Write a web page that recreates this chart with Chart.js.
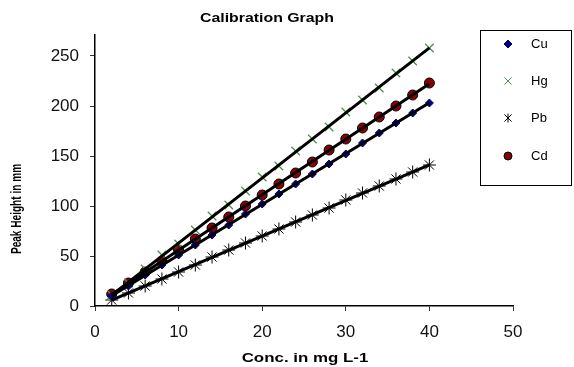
<!DOCTYPE html>
<html>
<head>
<meta charset="utf-8">
<script src="https://cdn.jsdelivr.net/npm/chart.js@4.4.0/dist/chart.umd.min.js"></script>
<style>
  html, body { margin: 0; padding: 0; background: #fff; }
  #wrap { position: relative; width: 574px; height: 367px; }
</style>
</head>
<body>
<div id="wrap"><canvas id="calib" width="574" height="367"></canvas></div>
<script>
// concentrations (mg L-1)
const conc = [2, 4, 6, 8, 10, 12, 14, 16, 18, 20, 22, 24, 26, 28, 30, 32, 34, 36, 38, 40]

// peak heights (mm)
const cuVals = [10, 20, 31, 41, 51, 61, 71, 81, 92, 102, 112, 122, 132, 142, 152, 163, 173, 183, 193, 203]
const hgVals = [11, 23, 37, 51, 62, 76, 90, 101, 115, 129, 140, 155, 167, 179, 194, 206, 218, 233, 245, 258]
const pbVals = [6, 13, 20, 27, 34, 41, 49, 56, 63, 70, 77, 84, 91, 98, 106, 113, 120, 127, 134, 141]
const cdVals = [12, 23, 34, 45, 56, 67, 78, 89, 100, 111, 122, 133, 144, 156, 167, 178, 189, 200, 211, 223]

const seriesNames = ['Cu', 'Hg', 'Pb', 'Cd']
const xTicks = [0, 10, 20, 30, 40, 50]
const yTicks = [0, 50, 100, 150, 200, 250]

const FONT = '"Liberation Sans", Arial, sans-serif'

const styles = {
  Cu: { pointStyle: 'rectRot', color: '#000080', border: '#000080', radius: 4, legendRadius: 4 },
  Hg: { pointStyle: 'crossRot', color: '#4f8f4f', border: '#4f8f4f', radius: 6, legendRadius: 4.5 },
  Pb: { pointStyle: 'star', color: '#000000', border: '#000000', radius: 6.5, legendRadius: 4.5 },
  Cd: { pointStyle: 'circle', color: '#8b0000', border: '#000000', radius: 5, legendRadius: 4 }
}

const valuesByName = { Cu: cuVals, Hg: hgVals, Pb: pbVals, Cd: cdVals }

function points(xs, ys) {
  return xs.map((x, i) => ({ x: x, y: ys[i] }))
}

// linear least-squares trendline through the series
function trend(xs, ys) {
  const n = xs.length
  let sx = 0, sy = 0, sxx = 0, sxy = 0
  for (let i = 0; i < n; i++) {
    sx += xs[i]; sy += ys[i]; sxx += xs[i] * xs[i]; sxy += xs[i] * ys[i]
  }
  const m = (n * sxy - sx * sy) / (n * sxx - sx * sx)
  const b = (sy - m * sx) / n
  const x0 = xs[0], x1 = xs[n - 1]
  return [{ x: x0, y: m * x0 + b }, { x: x1, y: m * x1 + b }]
}

const datasets = []
seriesNames.forEach(name => {
  const s = styles[name]
  datasets.push({
    label: name,
    data: points(conc, valuesByName[name]),
    showLine: false,
    pointStyle: s.pointStyle,
    pointRadius: s.radius,
    pointBackgroundColor: s.color,
    pointBorderColor: s.border,
    pointBorderWidth: name === 'Hg' ? 1.3 : 1,
    order: 2
  })
})
seriesNames.forEach(name => {
  datasets.push({
    label: name + ' trend',
    data: trend(conc, valuesByName[name]),
    showLine: true,
    borderColor: '#000000',
    borderWidth: 3,
    pointRadius: 0,
    order: 1
  })
})

function drawMarker(ctx, style, r, x, y) {
  ctx.save()
  ctx.fillStyle = style.color
  ctx.strokeStyle = style.border
  ctx.lineWidth = 1
  ctx.beginPath()
  if (style.pointStyle === 'rectRot') {
    ctx.moveTo(x, y - r); ctx.lineTo(x + r, y); ctx.lineTo(x, y + r); ctx.lineTo(x - r, y); ctx.closePath()
    ctx.fill(); ctx.stroke()
  } else if (style.pointStyle === 'crossRot') {
    const d = r * 0.8
    ctx.moveTo(x - d, y - d); ctx.lineTo(x + d, y + d)
    ctx.moveTo(x + d, y - d); ctx.lineTo(x - d, y + d)
    ctx.stroke()
  } else if (style.pointStyle === 'star') {
    const d = r * 0.8
    ctx.moveTo(x - d, y - d); ctx.lineTo(x + d, y + d)
    ctx.moveTo(x + d, y - d); ctx.lineTo(x - d, y + d)
    ctx.moveTo(x, y - r); ctx.lineTo(x, y + r)
    ctx.stroke()
  } else {
    ctx.arc(x, y, r, 0, Math.PI * 2)
    ctx.fill(); ctx.stroke()
  }
  ctx.restore()
}

// text in the source chart is stretched sideways, so draw it with a horizontal scale
function stretchedText(ctx, text, x, y, sx, angle) {
  ctx.save()
  ctx.translate(x, y)
  if (angle) ctx.rotate(angle)
  ctx.scale(sx, 1)
  ctx.fillText(text, 0, 0)
  ctx.restore()
}

// title, axis titles and the floating legend box
const decorations = {
  id: 'decorations',
  afterDraw(chart) {
    const ctx = chart.ctx
    ctx.save()
    ctx.fillStyle = '#000'
    ctx.textAlign = 'center'
    ctx.textBaseline = 'middle'
    ctx.font = 'bold 13px ' + FONT
    stretchedText(ctx, 'Calibration Graph', 267, 18, 1.22, 0)
    stretchedText(ctx, 'Conc. in mg L-1', 305, 358, 1.3, 0)
    ctx.font = 'bold 14px ' + FONT
    stretchedText(ctx, 'Peak Height in mm', 17, 209, 0.72, -Math.PI / 2)

    ctx.strokeStyle = '#000'
    ctx.lineWidth = 1
    ctx.strokeRect(480.5, 30.5, 91, 155)

    ctx.font = '13px ' + FONT
    ctx.textAlign = 'left'
    const rows = [44, 81, 118, 156]
    seriesNames.forEach((name, i) => {
      const s = styles[name]
      drawMarker(ctx, s, s.legendRadius, 508, rows[i])
      ctx.fillStyle = '#000'
      ctx.fillText(name, 531, rows[i])
    })
    ctx.restore()
  }
}

new Chart(document.getElementById('calib'), {
  type: 'scatter',
  data: { datasets: datasets },
  plugins: [decorations],
  options: {
    responsive: false,
    animation: false,
    layout: { padding: { top: 35, right: 61, left: 0, bottom: 0 } },
    plugins: {
      legend: { display: false },
      tooltip: { enabled: false },
      title: { display: false }
    },
    scales: {
      x: {
        type: 'linear',
        min: 0,
        max: 50,
        afterBuildTicks: axis => { axis.ticks = xTicks.map(v => ({ value: v })) },
        afterFit: axis => { axis.height = 61 },
        grid: { drawOnChartArea: false, drawTicks: true, tickLength: 5, color: '#333' },
        border: { color: '#000', width: 1.5 },
        ticks: { color: '#111', font: { family: FONT, size: 17 }, padding: 11 }
      },
      y: {
        type: 'linear',
        min: 0,
        max: 271,
        afterBuildTicks: axis => { axis.ticks = yTicks.map(v => ({ value: v })) },
        afterFit: axis => { axis.width = 95 },
        grid: { drawOnChartArea: false, drawTicks: true, tickLength: 5, color: '#333' },
        border: { color: '#000', width: 1.5 },
        ticks: { color: '#111', font: { family: FONT, size: 17 }, padding: 11 }
      }
    }
  }
})
</script>
</body>
</html>
